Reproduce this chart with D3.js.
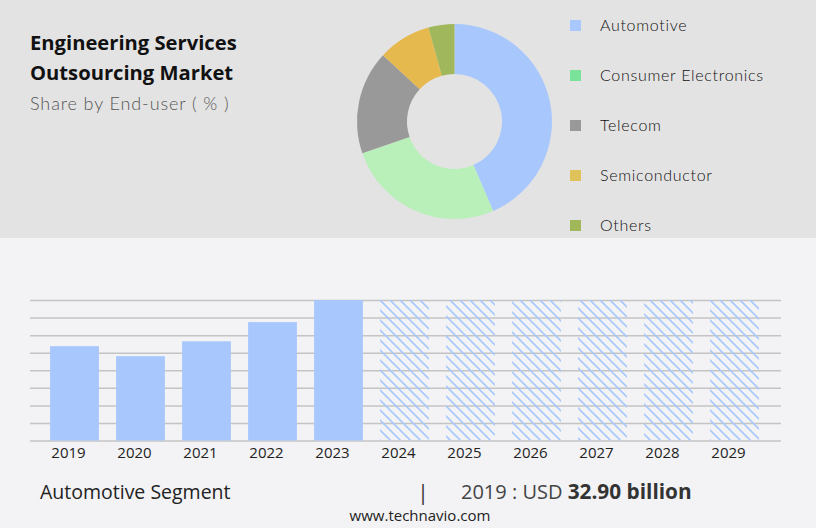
<!DOCTYPE html>
<html>
<head>
<meta charset="utf-8">
<script src="https://cdn.jsdelivr.net/npm/d3@7"></script>
<style>
  html, body { margin: 0; padding: 0; background: #f3f3f5; }
  svg { display: block; }
</style>
</head>
<body>
<div id="chart"></div>
<script>
// share by end-user (%)
const segments = ["Automotive", "Consumer Electronics", "Telecom", "Semiconductor", "Others"];
const shares = [43.5, 26.2, 17.2, 8.8, 4.3];

// automotive segment, USD billion
const years = ["2019", "2020", "2021", "2022", "2023", "2024", "2025", "2026", "2027", "2028", "2029"];
const actualYears = ["2019", "2020", "2021", "2022", "2023"];
const actualValues = [32.9, 29.4, 34.6, 41.3, 49.0];
const forecastYears = ["2024", "2025", "2026", "2027", "2028", "2029"];
const forecastValues = [49.0, 49.0, 49.0, 49.0, 49.0, 49.0];

const pieColors = ["#a8c8fd", "#b9efb9", "#999999", "#e6b94f", "#a1b75b"];
const legendColors = ["#a8c8ff", "#7ae39a", "#999999", "#dfc35a", "#a0b85a"];

const width = 816, height = 528;

const svg = d3.select("#chart")
  .append("svg")
  .attr("width", width)
  .attr("height", height);

// top panel
svg.append("rect")
  .attr("x", 0).attr("y", 0)
  .attr("width", width).attr("height", 238)
  .attr("fill", "#e3e3e3");

// title
const title = svg.append("text")
  .attr("x", 30)
  .style("font-family", "'Open Sans', sans-serif")
  .style("font-weight", "bold")
  .style("font-size", "20.2px")
  .attr("fill", "#111");
title.append("tspan").attr("x", 30).attr("y", 50).text("Engineering Services");
title.append("tspan").attr("x", 30).attr("y", 80).text("Outsourcing Market");

svg.append("text")
  .attr("x", 30).attr("y", 110)
  .style("font-family", "Lato, sans-serif")
  .style("font-weight", "300")
  .style("font-size", "18px")
  .style("letter-spacing", "0.9px")
  .attr("fill", "#555")
  .text("Share by End-user ( % )");

// donut
const pie = d3.pie().sort(null).value(d => d);
const arc = d3.arc().innerRadius(47.5).outerRadius(97.5);

svg.append("g")
  .attr("transform", "translate(454.5,121.5)")
  .selectAll("path")
  .data(pie(shares))
  .enter().append("path")
  .attr("d", arc)
  .attr("fill", (d, i) => pieColors[i]);

// legend
const legend = svg.selectAll(".legend")
  .data(segments)
  .enter().append("g")
  .attr("transform", (d, i) => `translate(570,${25.5 + i * 50})`);

legend.append("rect")
  .attr("x", 0).attr("y", -5.5)
  .attr("width", 11).attr("height", 11)
  .attr("fill", (d, i) => legendColors[i]);

legend.append("text")
  .attr("x", 30).attr("y", 5)
  .style("font-family", "Lato, sans-serif")
  .style("font-weight", "300")
  .style("font-size", "16px")
  .style("letter-spacing", "0.7px")
  .attr("fill", "#111")
  .text(d => d);

// bar chart
const x = d3.scaleBand()
  .domain(years)
  .range([41.5, 767.5])
  .paddingInner(0.26)
  .paddingOuter(0.13);

const yMax = d3.max(actualValues.concat(forecastValues));
const y = d3.scaleLinear().domain([0, yMax]).range([440.5, 300]);

const defs = svg.append("defs");
defs.append("pattern")
  .attr("id", "hatch")
  .attr("patternUnits", "userSpaceOnUse")
  .attr("width", 10).attr("height", 10)
  .append("path")
  .attr("d", "M-5,5 L5,15 M0,0 L10,10 M5,-5 L15,5")
  .attr("stroke", "#a8c8fd")
  .attr("stroke-width", 1.6);

// grid lines
const gridTicks = d3.range(0, 9).map(i => yMax * i / 8);
svg.append("g")
  .attr("class", "y-grid")
  .attr("transform", "translate(30,0)")
  .call(d3.axisLeft(y).tickValues(gridTicks).tickSize(-751).tickFormat(""))
  .call(g => g.select(".domain").remove())
  .call(g => g.selectAll("line").attr("stroke", "#c4c4c4").attr("stroke-width", 1.5));

svg.append("g")
  .selectAll("rect")
  .data(actualYears)
  .enter().append("rect")
  .attr("x", d => x(d))
  .attr("y", (d, i) => y(actualValues[i]))
  .attr("width", x.bandwidth())
  .attr("height", (d, i) => y(0) - y(actualValues[i]))
  .attr("fill", "#a8c8fd");

svg.append("g")
  .selectAll("rect")
  .data(forecastYears)
  .enter().append("rect")
  .attr("x", d => x(d))
  .attr("y", (d, i) => y(forecastValues[i]))
  .attr("width", x.bandwidth())
  .attr("height", (d, i) => y(0) - y(forecastValues[i]))
  .attr("fill", "url(#hatch)");

// x axis labels
svg.append("g")
  .attr("transform", "translate(-6,440.5)")
  .call(d3.axisBottom(x).tickSize(0).tickPadding(7))
  .call(g => g.select(".domain").remove())
  .call(g => g.selectAll("text")
    .style("font-family", "'Open Sans', sans-serif")
    .style("font-size", "15px")
    .attr("fill", "#222"));

// footer
svg.append("text")
  .attr("x", 40).attr("y", 499)
  .style("font-family", "'Open Sans', sans-serif")
  .style("font-size", "19.5px")
  .attr("fill", "#222")
  .text("Automotive Segment");

svg.append("text")
  .attr("x", 423).attr("y", 500)
  .attr("text-anchor", "middle")
  .style("font-family", "'Open Sans', sans-serif")
  .style("font-size", "21px")
  .attr("fill", "#333")
  .text("|");

const value = svg.append("text")
  .attr("x", 461).attr("y", 499)
  .style("font-family", "'Open Sans', sans-serif")
  .style("font-size", "20px")
  .attr("fill", "#444");
value.append("tspan").text(`${actualYears[0]} : USD `);
value.append("tspan")
  .style("font-weight", "bold")
  .style("font-size", "20.8px")
  .attr("fill", "#333")
  .text(`${actualValues[0].toFixed(2)} billion`);

svg.append("text")
  .attr("x", 420).attr("y", 521)
  .attr("text-anchor", "middle")
  .style("font-family", "'Open Sans', sans-serif")
  .style("font-size", "15px")
  .attr("fill", "#222")
  .text("www.technavio.com");
</script>
</body>
</html>
